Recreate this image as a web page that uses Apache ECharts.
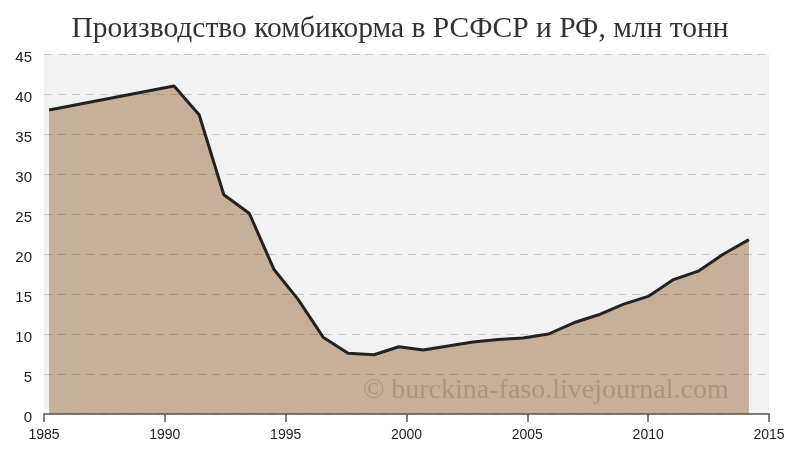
<!DOCTYPE html>
<html>
<head>
<meta charset="utf-8">
<script src="https://cdn.jsdelivr.net/npm/echarts@6/dist/echarts.min.js"></script>
<style>
  html, body { margin: 0; padding: 0; background: #fff; }
  #chart { width: 800px; height: 450px; }
</style>
</head>
<body>
<div id="chart"></div>
<script>
// позиции точек по оси лет и значения, млн тонн
const years = [1985.21, 1990.38, 1991.42, 1992.44, 1993.49, 1994.51, 1995.52, 1996.55,
  1997.58, 1998.66, 1999.68, 2000.69, 2001.72, 2002.75, 2003.79, 2004.82, 2005.88,
  2006.92, 2007.95, 2008.96, 2010.0, 2011.05, 2012.1, 2013.12, 2014.17];
const values = [38.0, 41.0, 37.4, 27.4, 25.1, 18.1, 14.3, 9.6, 7.6, 7.4, 8.4, 8.0, 8.5,
  9.0, 9.3, 9.5, 10.0, 11.4, 12.4, 13.7, 14.7, 16.8, 17.9, 20.0, 21.8];
const xTicks = [1985, 1990, 1995, 2000, 2005, 2010, 2015];
const yTicks = [0, 5, 10, 15, 20, 25, 30, 35, 40, 45];

const title = 'Производство комбикорма в РСФСР и РФ, млн тонн';
const credit = '© burckina-faso.livejournal.com';

const chart = echarts.init(document.getElementById('chart'));

chart.setOption({
  animation: false,
  backgroundColor: '#fff',
  title: {
    text: title,
    left: 'center',
    top: 9,
    textStyle: {
      fontFamily: 'Liberation Serif',
      fontWeight: 'normal',
      fontSize: 29.5,
      color: '#333'
    }
  },
  grid: {
    left: 44,
    right: 31,
    top: 54,
    bottom: 36,
    show: true,
    backgroundColor: '#f2f2f2',
    borderWidth: 0
  },
  xAxis: {
    type: 'value',
    min: xTicks[0],
    max: xTicks[xTicks.length - 1],
    interval: 5,
    z: 4,
    axisLine: { lineStyle: { color: '#555', width: 1.5 } },
    axisTick: { show: true, length: 8, lineStyle: { color: '#555', width: 1.5 } },
    axisLabel: {
      color: '#222',
      fontSize: 14,
      fontFamily: 'Liberation Sans',
      margin: 14,
      formatter: v => String(v)
    },
    splitLine: { show: false }
  },
  yAxis: {
    type: 'value',
    min: yTicks[0],
    max: yTicks[yTicks.length - 1],
    interval: 5,
    z: 3,
    axisLine: { show: false },
    axisTick: { show: false },
    axisLabel: {
      margin: 12,
      formatter: v => '{n|' + v + '}',
      rich: {
        n: {
          color: '#222',
          fontSize: 15,
          fontFamily: 'Liberation Sans',
          padding: [7, 0, 0, 0]
        }
      }
    },
    splitLine: {
      lineStyle: { color: 'rgba(0,0,0,0.17)', type: [8, 6], width: 1 }
    }
  },
  series: [{
    type: 'line',
    data: years.map((y, i) => [y, values[i]]),
    symbol: 'none',
    z: 2,
    lineStyle: { color: '#222', width: 3 },
    areaStyle: { color: '#c6b09a', opacity: 1 }
  }],
  graphic: [{
    type: 'text',
    left: 363,
    top: 377,
    z: 10,
    style: {
      text: credit,
      font: '28px "Liberation Serif"',
      fill: 'rgba(60,50,40,0.2)'
    }
  }]
});
</script>
</body>
</html>
